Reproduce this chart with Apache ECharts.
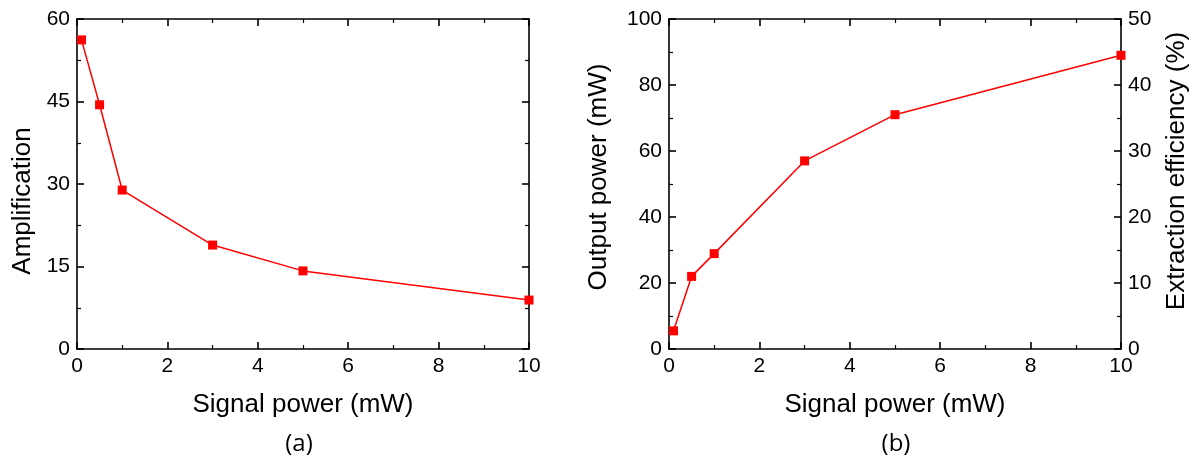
<!DOCTYPE html>
<html><head><meta charset="utf-8">
<script src="https://cdn.jsdelivr.net/npm/echarts@6/dist/echarts.min.js"></script>
<style>html,body{margin:0;padding:0;background:#fff}#c{width:1201px;height:458px}</style>
</head><body><div id="c"></div>
<script>
const signalPower = [0.1, 0.5, 1, 3, 5, 10];
const amplification = [56.2, 44.4, 28.9, 18.9, 14.2, 8.9];
const outputPower = [5.5, 22.0, 28.9, 57.0, 71.0, 89.0];
const panelLabels = ['(a)', '(b)'];
const xTitle = 'Signal power (mW)';
const yTitleA = 'Amplification';
const yTitleB = 'Output power (mW)';
const yTitleB2 = 'Extraction efficiency (%)';

const tickFont = {fontFamily: 'Liberation Sans', fontSize: 21, color: '#000'};
const titleFont = {fontFamily: 'Liberation Sans', fontSize: 26, color: '#000'};
const lineStyle = {color: '#000', width: 1.6};

function axisBase(extra) {
  return Object.assign({
    axisLine: {show: true, onZero: false, lineStyle},
    axisTick: {show: true, inside: true, length: 7, lineStyle},
    minorTick: {show: true, splitNumber: 2, length: 4, lineStyle: {color: '#000', width: 1.2}},
    splitLine: {show: false},
    axisLabel: Object.assign({margin: 7}, tickFont),
    nameTextStyle: titleFont,
    nameLocation: 'middle'
  }, extra);
}
function mirror(extra) {
  return axisBase(Object.assign({axisLabel: {show: false}}, extra));
}
function label(text, x, y, font, size, rot) {
  return {
    type: 'text', x: x, y: y, rotation: rot || 0, silent: true,
    style: {text: text, x: 0, y: 0, align: 'center', verticalAlign: 'middle',
            textAlign: 'center', textVerticalAlign: 'middle',
            font: size + 'px "' + font + '"', fill: '#000'}
  };
}

const chart = echarts.init(document.getElementById('c'), null, {renderer: 'canvas'});
chart.setOption({
  animation: false,
  backgroundColor: '#fff',
  graphic: [
    label(panelLabels[0], 299, 444, 'Open Sans', 24),
    label(panelLabels[1], 896, 444, 'Open Sans', 24),
    label(yTitleA, 23, 201, 'Liberation Sans', 26, Math.PI / 2),
    label(yTitleB, 599, 177, 'Liberation Sans', 26, Math.PI / 2),
    label(yTitleB2, 1177, 171, 'Liberation Sans', 26, Math.PI / 2)
  ],
  grid: [
    {left: 77, top: 19, width: 452, height: 330},
    {left: 669, top: 19, width: 452, height: 330}
  ],
  xAxis: [
    axisBase({type: 'value', gridIndex: 0, min: 0, max: 10, interval: 2, position: 'bottom', name: xTitle, nameGap: 43}),
    mirror({type: 'value', gridIndex: 0, min: 0, max: 10, interval: 2, position: 'top'}),
    axisBase({type: 'value', gridIndex: 1, min: 0, max: 10, interval: 2, position: 'bottom', name: xTitle, nameGap: 43}),
    mirror({type: 'value', gridIndex: 1, min: 0, max: 10, interval: 2, position: 'top'})
  ],
  yAxis: [
    axisBase({type: 'value', gridIndex: 0, min: 0, max: 60, interval: 15, position: 'left'}),
    mirror({type: 'value', gridIndex: 0, min: 0, max: 60, interval: 15, position: 'right'}),
    axisBase({type: 'value', gridIndex: 1, min: 0, max: 100, interval: 20, position: 'left'}),
    axisBase({type: 'value', gridIndex: 1, min: 0, max: 50, interval: 10, position: 'right'})
  ],
  series: [
    {type: 'line', xAxisIndex: 0, yAxisIndex: 0, data: signalPower.map((x, i) => [x, amplification[i]]),
     symbol: 'rect', symbolSize: 9, itemStyle: {color: '#ff0000'}, lineStyle: {color: '#ff0000', width: 1.5}},
    {type: 'line', xAxisIndex: 2, yAxisIndex: 2, data: signalPower.map((x, i) => [x, outputPower[i]]),
     symbol: 'rect', symbolSize: 9, itemStyle: {color: '#ff0000'}, lineStyle: {color: '#ff0000', width: 1.5}}
  ]
});
</script></body></html>
